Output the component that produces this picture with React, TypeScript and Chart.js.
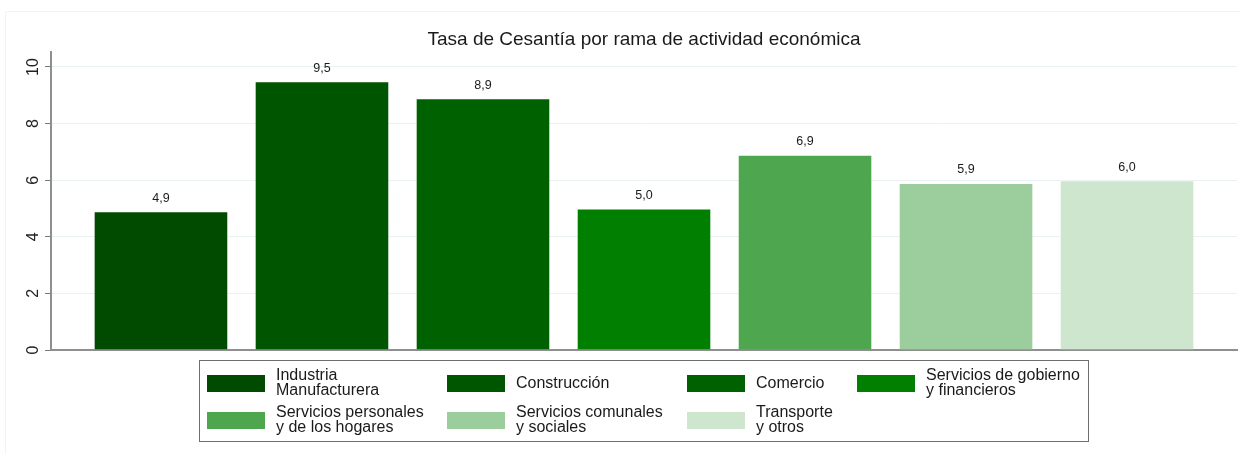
import { useEffect, useRef } from "react";
import { Chart, registerables } from "chart.js";

Chart.register(...registerables);

const chartTitle = "Tasa de Cesantía por rama de actividad económica";
const categories = [
  "Industria Manufacturera",
  "Construcción",
  "Comercio",
  "Servicios de gobierno y financieros",
  "Servicios personales y de los hogares",
  "Servicios comunales y sociales",
  "Transporte y otros",
];
const legendLines = [
  ["Industria", "Manufacturera"],
  ["Construcción"],
  ["Comercio"],
  ["Servicios de gobierno", "y financieros"],
  ["Servicios personales", "y de los hogares"],
  ["Servicios comunales", "y sociales"],
  ["Transporte", "y otros"],
];
const values = [4.9, 9.5, 8.9, 5.0, 6.9, 5.9, 6.0];
const barColors = ["#004b00", "#005500", "#006100", "#007f00", "#4ea64e", "#9ccd9c", "#cde6cd"];
const yTicks = [0, 2, 4, 6, 8, 10];

const FONT = "Arial, 'Liberation Sans', Helvetica, sans-serif";

const framePlugin = {
  id: "frame",
  beforeDraw(chart: any) {
    const ctx = chart.ctx;
    ctx.save();
    ctx.fillStyle = "#ffffff";
    ctx.fillRect(0, 0, chart.width, chart.height);
    ctx.strokeStyle = "#f1f4f6";
    ctx.lineWidth = 1;
    ctx.beginPath();
    ctx.moveTo(5.5, chart.height);
    ctx.lineTo(5.5, 11.5);
    ctx.lineTo(chart.width, 11.5);
    ctx.stroke();
    ctx.restore();
  },
};

const valueLabelPlugin = {
  id: "valueLabels",
  afterDatasetsDraw(chart: any) {
    const ctx = chart.ctx;
    const meta = chart.getDatasetMeta(0);
    ctx.save();
    ctx.font = `12.5px ${FONT}`;
    ctx.fillStyle = "#1a1a1a";
    ctx.textAlign = "center";
    ctx.textBaseline = "middle";
    meta.data.forEach((el: any, i: number) => {
      const txt = values[i].toFixed(1).replace(".", ",");
      ctx.fillText(txt, el.x, el.y - 13);
    });
    ctx.restore();
  },
};

const legendPlugin = {
  id: "customLegend",
  afterDraw(chart: any) {
    const ctx = chart.ctx;
    const boxL = 199.5, boxT = 360.5, boxW = 889, boxH = 81;
    const colX = [207, 447, 687, 857];
    const rowCy = [383.5, 420.5];
    const sw = 58, sh = 17, lh = 15;
    ctx.save();
    ctx.fillStyle = "#ffffff";
    ctx.fillRect(boxL, boxT, boxW, boxH);
    ctx.strokeStyle = "#6e6e6e";
    ctx.lineWidth = 1;
    ctx.strokeRect(boxL, boxT, boxW, boxH);
    ctx.font = `16px ${FONT}`;
    ctx.textAlign = "left";
    ctx.textBaseline = "middle";
    legendLines.forEach((lines, i) => {
      const c = i % 4;
      const r = Math.floor(i / 4);
      const x = colX[c];
      const cy = rowCy[r];
      ctx.fillStyle = barColors[i];
      ctx.fillRect(x, cy - sh / 2, sw, sh);
      ctx.fillStyle = "#1a1a1a";
      const y0 = cy - ((lines.length - 1) * lh) / 2;
      lines.forEach((t, k) => ctx.fillText(t, x + 69, y0 + k * lh));
    });
    ctx.restore();
  },
};

export default function App() {
  const ref = useRef<HTMLCanvasElement>(null);
  useEffect(() => {
    document.body.style.margin = "0";
    Chart.defaults.font.family = FONT;
    const chart = new Chart(ref.current!, {
      type: "bar",
      data: {
        labels: categories,
        datasets: [
          {
            label: "Tasa de Cesantía",
            data: values.map((v, i) => ({ x: i, y: v })),
            backgroundColor: barColors,
            borderColor: "rgba(255,255,255,0.3)",
            borderWidth: 1,
            barPercentage: 0.836,
            categoryPercentage: 1,
          },
        ],
      },
      options: {
        animation: false,
        responsive: false,
        devicePixelRatio: 1,
        layout: { padding: { left: 0, right: 3, top: 0, bottom: 104 } },
        plugins: {
          legend: { display: false },
          tooltip: { enabled: false },
          title: {
            display: true,
            text: chartTitle,
            fullSize: false,
            color: "#1a1a1a",
            font: { size: 19, weight: "normal", family: FONT },
            padding: { top: 28.5, bottom: 0.7 },
          },
        },
        scales: {
          x: {
            type: "linear",
            min: -0.683,
            max: 6.683,
            offset: false,
            z: 1,
            afterBuildTicks: (scale: any) => {
              scale.ticks = categories.map((_, i) => ({ value: i }));
            },
            afterFit: (scale: any) => {
              scale.height = 0;
            },
            ticks: { display: false },
            grid: { display: false },
            border: { display: true, color: "#8f8f8f", width: 2 },
          },
          y: {
            min: 0,
            max: 10.53,
            afterBuildTicks: (scale: any) => {
              scale.ticks = yTicks.map((v) => ({ value: v }));
            },
            afterFit: (scale: any) => {
              scale.width = 51;
            },
            ticks: {
              minRotation: 90,
              maxRotation: 90,
              crossAlign: "center",
              padding: 3,
              color: "#222222",
              font: { size: 16, family: FONT },
            },
            grid: {
              color: "#eaf1f3",
              lineWidth: 1,
              tickLength: 6,
              tickColor: "#777777",
              drawTicks: true,
            },
            border: { display: true, color: "#8f8f8f", width: 2 },
          },
        },
      } as any,
      plugins: [framePlugin, valueLabelPlugin, legendPlugin],
    });
    return () => chart.destroy();
  }, []);
  return <canvas ref={ref} width={1240} height={454} style={{ display: "block" }} />;
}
